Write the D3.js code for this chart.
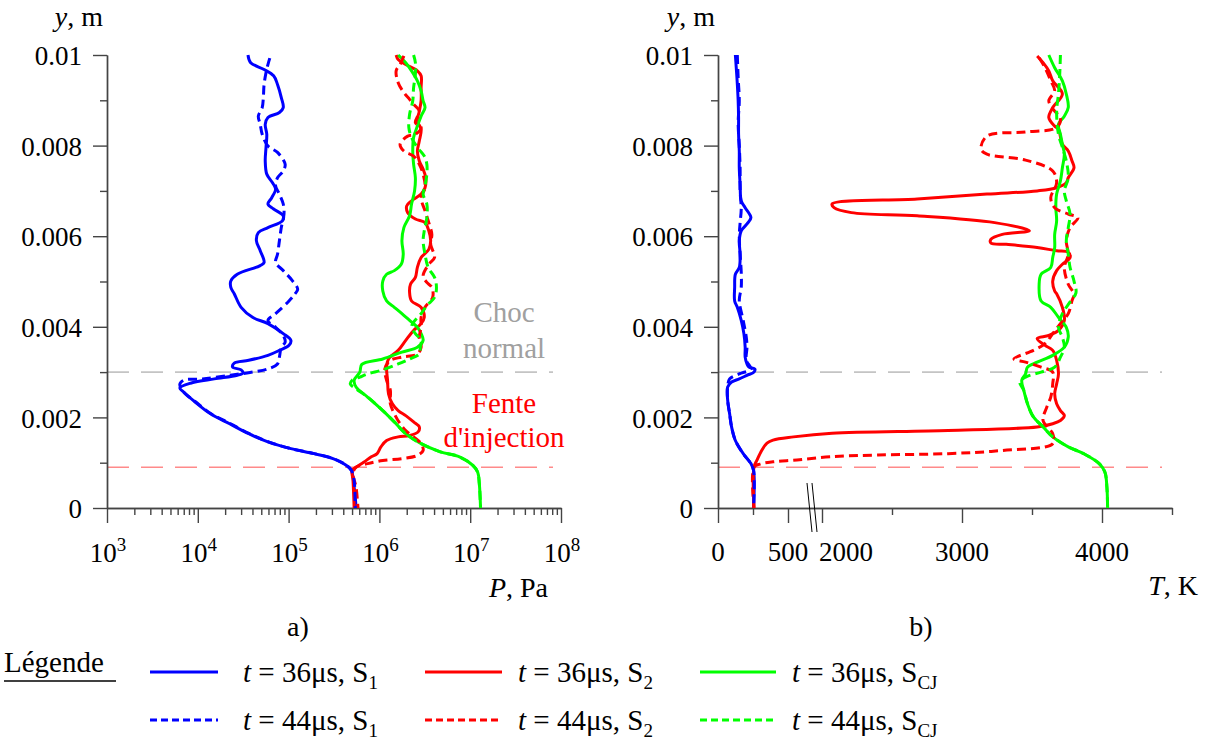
<!DOCTYPE html>
<html><head><meta charset="utf-8">
<script src="https://cdn.jsdelivr.net/npm/d3@7"></script>
<style>
body{margin:0;background:#fff}
</style>
</head><body>
<svg id="c" width="1207" height="742"></svg>
<script>
// ---------- DATA ----------
const yTicksMajor = [0, 0.002, 0.004, 0.006, 0.008, 0.01];
const yTicksMinor = [0.001, 0.003, 0.005, 0.007, 0.009];
const pDecades = [1e3, 1e4, 1e5, 1e6, 1e7, 1e8];
const pDecadeExp = ["3", "4", "5", "6", "7", "8"];
const tMajor = [0, 500, 2000, 3000, 4000];
const tMinor = [250, 2500, 3500, 4500];
const tLabels = ["0", "500", "2000", "3000", "4000"];
const refLevels = [0.003, 0.0009]; // Choc normal, Fente d'injection

// pressure profiles [P (Pa), y (mm)]
const P_S1_36 = [[3.57e4,10],[3.82e4,9.83],[5.37e4,9.68],[6.84e4,9.54],[7.55e4,9.35],[8.31e4,9.06],[8.73e4,8.84],[7.92e4,8.73],[5.92e4,8.62],[5.53e4,8.47],[5.75e4,8.25],[5.64e4,7.96],[5.53e4,7.66],[5.75e4,7.37],[6.65e4,7.18],[7.19e4,7.04],[6.52e4,6.85],[5.92e4,6.71],[6.84e4,6.60],[8.73e4,6.45],[8.55e4,6.34],[5.92e4,6.19],[4.64e4,6.08],[4.42e4,5.90],[4.87e4,5.68],[5.37e4,5.42],[4.87e4,5.35],[2.72e4,5.16],[2.31e4,5.01],[2.31e4,4.87],[2.52e4,4.73],[3.0e4,4.43],[4.01e4,4.21],[5.92e4,4.07],[8.73e4,3.85],[1.06e5,3.70],[1.01e5,3.59],[7.92e4,3.48],[5.92e4,3.37],[3.64e4,3.26],[2.52e4,3.20],[2.42e4,3.11],[3.0e4,3.05],[3.15e4,2.98],[2.72e4,2.93],[1.52e4,2.85],[8.48e3,2.76],[6.34e3,2.65],[6.98e3,2.56],[9.34e3,2.34],[1.38e4,2.08],[2.24e4,1.86],[3.64e4,1.64],[5.92e4,1.46],[1.06e5,1.31],[1.90e5,1.20],[3.08e5,1.09],[4.34e5,0.94],[4.92e5,0.83],[5.12e5,0.68],[5.27e5,0.46],[5.42e5,0.24],[5.53e5,0]];
const P_S1_44 = [[6.21e4,9.93],[5.92e4,9.79],[5.64e4,9.61],[5.37e4,9.35],[5.27e4,9.06],[5.12e4,8.84],[4.64e4,8.65],[4.87e4,8.47],[5.12e4,8.25],[5.92e4,7.99],[7.55e4,7.85],[9.16e4,7.59],[8.73e4,7.44],[7.55e4,7.29],[7.19e4,7.11],[7.92e4,6.93],[8.73e4,6.71],[8.9e4,6.49],[8.31e4,6.19],[7.92e4,5.90],[7.55e4,5.60],[7.19e4,5.42],[8.73e4,5.24],[1.11e5,5.01],[1.26e5,4.83],[1.17e5,4.72],[1.01e5,4.57],[7.19e4,4.29],[5.92e4,4.14],[7.19e4,3.99],[8.73e4,3.81],[9.16e4,3.66],[8.31e4,3.55],[7.92e4,3.33],[7.55e4,3.18],[5.92e4,3.07],[4.01e4,3.0],[2.24e4,2.93],[1.13e4,2.85],[6.98e3,2.82],[6.34e3,2.73],[6.98e3,2.56],[9.5e3,2.34],[1.4e4,2.08],[2.3e4,1.86],[3.7e4,1.64],[6.0e4,1.46],[1.07e5,1.31],[1.92e5,1.20],[3.1e5,1.09],[4.36e5,0.94],[4.94e5,0.83],[5.27e5,0.61],[5.42e5,0]];
const P_S2_36 = [[1.53e6,10],[1.61e6,9.90],[1.95e6,9.79],[2.62e6,9.65],[2.88e6,9.54],[2.88e6,9.28],[2.88e6,8.99],[2.75e6,8.76],[2.62e6,8.54],[2.88e6,8.36],[2.75e6,8.10],[2.62e6,7.88],[2.75e6,7.66],[3.03e6,7.48],[3.24e6,7.29],[3.18e6,7.07],[2.88e6,6.93],[2.26e6,6.78],[2.0e6,6.67],[2.05e6,6.52],[2.49e6,6.38],[3.18e6,6.30],[3.50e6,6.12],[3.67e6,5.90],[3.50e6,5.71],[2.88e6,5.53],[2.62e6,5.31],[2.49e6,5.09],[2.20e6,4.94],[2.15e6,4.76],[2.26e6,4.57],[2.88e6,4.43],[3.12e6,4.21],[2.88e6,4.07],[2.38e6,3.92],[1.95e6,3.70],[1.61e6,3.48],[1.26e6,3.29],[1.20e6,3.11],[1.23e6,2.82],[1.26e6,2.52],[1.39e6,2.30],[1.61e6,2.15],[1.95e6,2.04],[2.38e6,1.90],[2.75e6,1.79],[2.67e6,1.68],[2.15e6,1.60],[1.61e6,1.57],[1.20e6,1.49],[1.04e6,1.35],[9.44e5,1.20],[8.15e5,1.13],[6.71e5,1.01],[5.53e5,0.90],[5.01e5,0.83],[5.12e5,0.61],[5.27e5,0]];
const P_S2_44 = [[1.86e6,9.98],[1.69e6,9.79],[1.53e6,9.65],[1.61e6,9.39],[1.86e6,9.17],[2.15e6,9.02],[2.38e6,8.91],[2.75e6,8.76],[2.49e6,8.51],[2.88e6,8.40],[2.49e6,8.25],[2.05e6,8.21],[1.69e6,8.03],[1.86e6,7.88],[2.38e6,7.77],[2.75e6,7.59],[3.03e6,7.37],[3.18e6,7.07],[2.88e6,6.85],[3.18e6,6.56],[3.50e6,6.30],[3.78e6,6.04],[3.67e6,5.82],[4.05e6,5.53],[3.50e6,5.38],[3.03e6,5.12],[3.33e6,4.98],[3.78e6,4.87],[3.86e6,4.65],[3.18e6,4.43],[2.88e6,4.21],[2.88e6,3.99],[2.75e6,3.77],[2.88e6,3.55],[2.62e6,3.40],[1.77e6,3.33],[1.32e6,3.26],[1.15e6,3.07],[1.20e6,2.82],[1.32e6,2.60],[1.32e6,2.30],[1.46e6,2.08],[1.69e6,1.86],[1.95e6,1.71],[2.38e6,1.57],[2.88e6,1.42],[3.03e6,1.27],[2.62e6,1.16],[1.77e6,1.09],[1.09e6,1.05],[7.40e5,0.98],[5.53e5,0.90],[5.12e5,0.76],[5.53e5,0.46],[5.81e5,0]];
const P_SCJ_36 = [[1.61e6,10],[1.95e6,9.83],[2.26e6,9.65],[2.62e6,9.43],[2.88e6,9.21],[3.03e6,8.99],[3.18e6,8.84],[2.88e6,8.65],[2.62e6,8.43],[2.38e6,8.18],[2.33e6,7.88],[2.38e6,7.59],[2.49e6,7.29],[2.44e6,7.0],[2.26e6,6.71],[2.15e6,6.45],[1.86e6,6.19],[1.77e6,5.90],[1.83e6,5.60],[1.74e6,5.38],[1.46e6,5.24],[1.20e6,5.16],[1.09e6,5.01],[1.09e6,4.79],[1.20e6,4.57],[1.46e6,4.43],[1.77e6,4.29],[2.15e6,4.14],[2.62e6,3.99],[2.88e6,3.85],[3.03e6,3.70],[2.62e6,3.55],[1.77e6,3.44],[1.09e6,3.29],[6.40e5,3.17],[6.09e5,3.0],[5.27e5,2.82],[5.53e5,2.67],[7.40e5,2.45],[1.09e6,2.15],[1.46e6,1.90],[1.95e6,1.64],[2.88e6,1.42],[4.69e6,1.24],[7.62e6,1.13],[1.07e7,0.94],[1.21e7,0.79],[1.26e7,0.54],[1.30e7,0]];
const P_SCJ_44 = [[2.38e6,10],[2.49e6,9.83],[2.49e6,9.57],[2.38e6,9.28],[2.33e6,8.99],[2.15e6,8.69],[2.11e6,8.40],[2.26e6,8.18],[2.62e6,7.96],[3.12e6,7.77],[3.33e6,7.59],[3.33e6,7.37],[3.18e6,7.11],[3.03e6,6.93],[3.33e6,6.71],[3.33e6,6.41],[3.12e6,6.12],[3.03e6,5.90],[3.18e6,5.60],[3.44e6,5.31],[4.05e6,5.09],[4.25e6,4.87],[4.05e6,4.65],[3.33e6,4.47],[2.88e6,4.29],[2.38e6,4.10],[2.26e6,3.99],[2.49e6,3.85],[2.88e6,3.70],[2.82e6,3.55],[2.75e6,3.40],[2.15e6,3.29],[1.61e6,3.18],[1.09e6,3.05],[7.40e5,2.96],[6.09e5,2.89],[5.01e5,2.82],[4.78e5,2.74],[5.53e5,2.63],[7.40e5,2.45],[1.09e6,2.15],[1.46e6,1.90],[1.95e6,1.64],[2.88e6,1.42],[4.69e6,1.24],[7.62e6,1.13],[1.07e7,0.94],[1.21e7,0.79],[1.26e7,0.54],[1.30e7,0]];

// temperature profiles [T (K), y (mm)]
const T_S1_36 = [[124,10],[130,9.74],[138,9.36],[144,8.99],[147,8.62],[147,8.25],[152,7.88],[152,7.51],[158,7.14],[166,6.78],[194,6.63],[235,6.41],[207,6.27],[166,6.12],[152,5.90],[158,5.60],[152,5.31],[124,5.16],[119,4.87],[119,4.57],[138,4.43],[166,4.14],[185,3.85],[194,3.55],[194,3.33],[207,3.18],[221,3.11],[263,3.07],[257,3.0],[207,2.93],[152,2.85],[97,2.78],[69,2.67],[69,2.38],[83,2.08],[97,1.79],[124,1.49],[180,1.20],[235,0.98],[254,0.83],[254,0]];
const T_S1_44 = [[138,10],[144,9.5],[152,8.99],[144,8.5],[152,8.0],[158,7.5],[158,7.0],[166,6.6],[158,6.3],[152,6.0],[158,5.6],[166,5.2],[166,4.87],[152,4.58],[180,4.14],[202,3.77],[207,3.55],[202,3.26],[235,3.07],[152,2.96],[83,2.85],[69,2.67],[69,2.38],[83,2.08],[97,1.79],[124,1.49],[180,1.20],[235,0.98],[254,0.83],[254,0]];
const T_S2_36 = [[3537,9.98],[3579,9.83],[3620,9.65],[3648,9.43],[3717,9.14],[3648,8.84],[3620,8.62],[3662,8.43],[3689,8.36],[3717,8.03],[3759,7.88],[3786,7.66],[3800,7.51],[3759,7.29],[3745,7.18],[3676,7.07],[3537,7.0],[3178,6.93],[2680,6.82],[2072,6.71],[2086,6.63],[2210,6.52],[2680,6.45],[3233,6.30],[3482,6.12],[3288,6.04],[3206,5.93],[3206,5.85],[3316,5.82],[3537,5.75],[3676,5.68],[3759,5.65],[3772,5.53],[3717,5.38],[3676,5.24],[3648,5.01],[3662,4.79],[3676,4.73],[3717,4.43],[3731,4.14],[3689,3.92],[3620,3.81],[3537,3.74],[3593,3.59],[3648,3.48],[3676,3.26],[3689,2.96],[3676,2.74],[3662,2.52],[3676,2.30],[3703,2.15],[3731,2.04],[3703,1.93],[3648,1.86],[3537,1.79],[2901,1.71],[2072,1.65],[743,1.57],[393,1.50],[350,1.43],[314,1.28],[279,1.06],[257,0.90],[257,0]];
const T_S2_44 = [[3551,9.94],[3593,9.72],[3634,9.43],[3662,9.21],[3620,8.99],[3662,8.76],[3703,8.62],[3676,8.40],[3454,8.30],[3178,8.21],[3136,7.92],[3178,7.81],[3454,7.68],[3648,7.44],[3676,7.18],[3634,6.85],[3662,6.63],[3759,6.49],[3828,6.41],[3772,6.19],[3745,5.90],[3759,5.60],[3731,5.31],[3759,4.94],[3800,4.72],[3786,4.58],[3759,4.29],[3703,4.07],[3648,3.85],[3593,3.63],[3510,3.48],[3371,3.29],[3454,3.22],[3565,3.11],[3648,3.0],[3648,2.74],[3634,2.45],[3606,2.23],[3579,1.93],[3648,1.64],[3648,1.42],[3288,1.27],[2901,1.20],[2400,1.17],[2057,1.13],[897,1.06],[393,1.02],[300,0.97],[257,0.90],[257,0]];
const T_SCJ_36 = [[3620,10],[3662,9.72],[3717,9.43],[3745,9.14],[3759,8.84],[3731,8.65],[3689,8.47],[3703,8.25],[3717,8.03],[3731,7.81],[3717,7.51],[3703,7.22],[3676,6.93],[3670,6.63],[3676,6.34],[3662,6.04],[3662,5.75],[3648,5.53],[3634,5.31],[3565,5.16],[3551,4.94],[3565,4.57],[3634,4.43],[3689,4.21],[3745,3.99],[3759,3.77],[3731,3.55],[3648,3.37],[3537,3.22],[3468,3.11],[3454,2.96],[3427,2.82],[3441,2.60],[3468,2.30],[3510,2.01],[3579,1.79],[3648,1.57],[3759,1.35],[3869,1.20],[3980,0.98],[4021,0.79],[4035,0.46],[4040,0]];
const T_SCJ_44 = [[3703,10],[3698,9.57],[3689,9.14],[3676,8.76],[3689,8.25],[3717,7.96],[3745,7.66],[3759,7.29],[3731,7.0],[3745,6.78],[3772,6.49],[3759,6.19],[3745,5.90],[3759,5.60],[3772,5.31],[3800,5.01],[3814,4.75],[3772,4.55],[3717,4.29],[3689,3.99],[3717,3.77],[3731,3.55],[3703,3.33],[3662,3.11],[3565,3.0],[3454,2.89],[3413,2.78],[3441,2.60],[3468,2.30],[3510,2.01],[3579,1.79],[3648,1.57],[3759,1.35],[3869,1.20],[3980,0.98],[4021,0.79],[4035,0.46],[4040,0]];

const legendTime = ["36", "44"];
const legendSub = ["1", "2", "CJ"];

// ---------- STYLE / LAYOUT ----------
const SERIF = "'Liberation Serif', 'DejaVu Serif', Tinos, 'Times New Roman', serif";
const colors = {S1:"#0000ff", S2:"#ff0000", SCJ:"#00ff00"};
const FONT = 27;
const svg = d3.select("#c").attr("font-family", SERIF).style("font-family", SERIF);

const y = d3.scaleLinear().domain([0, 0.01]).range([508, 55]);
const xP = d3.scaleLog().domain([1e3, 1e8]).range([107, 561]);
const xT = d3.scaleLinear().domain([0, 500, 2000, 4500]).range([718, 788, 822, 1172]);

function txt(sel) { return sel.style("font-family", SERIF).style("fill", "#000"); }

// reference dashed lines
const refColors = ["#c4c4c4", "#ff8a8a"];
refLevels.forEach((lv, i) => {
  [[107, 553], [718, 1162]].forEach(([a, b]) => {
    svg.append("line").attr("x1", a).attr("x2", b).attr("y1", y(lv)).attr("y2", y(lv))
      .attr("stroke", refColors[i]).attr("stroke-width", 1.6).attr("stroke-dasharray", "22,12");
  });
});

// axes
function styleAxis(g) {
  g.selectAll("path.domain").attr("stroke", "#444").attr("stroke-width", 1.4);
  g.selectAll(".tick line").attr("stroke", "#444").attr("stroke-width", 1.4);
  g.attr("font-family", SERIF).attr("font-size", FONT);
  return g;
}
function yAxis(x0) {
  styleAxis(svg.append("g").attr("transform", `translate(${x0},0)`)
    .call(d3.axisLeft(y).tickValues(yTicksMinor).tickSize(7).tickSizeOuter(0).tickFormat("")));
  const g = styleAxis(svg.append("g").attr("transform", `translate(${x0},0)`)
    .call(d3.axisLeft(y).tickValues(yTicksMajor).tickSize(14).tickPadding(11).tickSizeOuter(0)
      .tickFormat(d => d === 0 ? "0" : String(+d.toFixed(3)))));
  txt(g.selectAll(".tick text").attr("font-size", FONT).attr("dy", "0.36em"));
}
yAxis(107);
yAxis(718);

// left x axis (log)
const pMinor = [];
pDecades.slice(0, -1).forEach(d => d3.range(2, 10).forEach(k => pMinor.push(d * k)));
styleAxis(svg.append("g").attr("transform", "translate(0,508)")
  .call(d3.axisBottom(xP).tickValues(pMinor).tickSize(7).tickSizeOuter(0).tickFormat("")));
styleAxis(svg.append("g").attr("transform", "translate(0,508)")
  .call(d3.axisBottom(xP).tickValues(pDecades).tickSize(15).tickSizeOuter(0).tickFormat("")));
pDecades.forEach((d, i) => {
  const t = txt(svg.append("text").attr("x", xP(d) + 1).attr("y", 562).attr("text-anchor", "middle").attr("font-size", FONT));
  t.append("tspan").text("10");
  t.append("tspan").attr("font-size", 19).attr("dy", -11).text(pDecadeExp[i]);
});

// right x axis (broken)
styleAxis(svg.append("g").attr("transform", "translate(0,508)")
  .call(d3.axisBottom(xT).tickValues(tMinor).tickSize(7).tickSizeOuter(0).tickFormat("")));
styleAxis(svg.append("g").attr("transform", "translate(0,508)")
  .call(d3.axisBottom(xT).tickValues(tMajor).tickSize(15).tickSizeOuter(0).tickFormat("")));
tMajor.forEach((d, i) => {
  const shifted = d === 2000;
  txt(svg.append("text").attr("x", shifted ? xT(d) - 3 : xT(d)).attr("y", 561)
    .attr("text-anchor", shifted ? "start" : "middle").attr("font-size", FONT).text(tLabels[i]));
});
// axis break marks
[0, 5].forEach(o => {
  svg.append("line").attr("x1", 807 + o).attr("y1", 483).attr("x2", 812 + o).attr("y2", 532)
    .attr("stroke", "#000").attr("stroke-width", 1);
});

// axis titles
function title(x, yy, italic, rest) {
  const t = txt(svg.append("text").attr("x", x).attr("y", yy).attr("text-anchor", "end").attr("font-size", 28));
  t.append("tspan").attr("font-style", "italic").text(italic);
  t.append("tspan").text(rest);
}
title(103, 26, "y", ", m");
title(715, 26, "y", ", m");
title(548, 597, "P", ", Pa");
title(1198, 595, "T", ", K");
txt(svg.append("text").attr("x", 298).attr("y", 636).attr("text-anchor", "middle").attr("font-size", 28).text("a)"));
txt(svg.append("text").attr("x", 921).attr("y", 636).attr("text-anchor", "middle").attr("font-size", 28).text("b)"));

// annotations
const ann = [["Choc", 322, "#a0a0a0"], ["normal", 358, "#a0a0a0"], ["Fente", 413, "#ff0000"], ["d'injection", 447, "#ff0000"]];
ann.forEach(([s, yy, c]) => txt(svg.append("text").attr("x", 504).attr("y", yy).attr("text-anchor", "middle")
  .attr("font-size", 29).text(s)).style("fill", c));

// curves
const dashes = "9,5";
const lineP = d3.line().x(d => xP(d[0])).y(d => y(d[1] / 1000)).curve(d3.curveCatmullRom.alpha(0.5));
const lineT = d3.line().x(d => xT(d[0])).y(d => y(d[1] / 1000)).curve(d3.curveCatmullRom.alpha(0.5));
const pSeries = {S1_36: P_S1_36, S1_44: P_S1_44, S2_36: P_S2_36, S2_44: P_S2_44, SCJ_36: P_SCJ_36, SCJ_44: P_SCJ_44};
const tSeries = {S1_36: T_S1_36, S1_44: T_S1_44, S2_36: T_S2_36, S2_44: T_S2_44, SCJ_36: T_SCJ_36, SCJ_44: T_SCJ_44};
const drawOrder = ["S1_36", "S2_36", "SCJ_36", "S2_44", "SCJ_44", "S1_44"];
drawOrder.forEach(name => {
  const key = name.split("_")[0];
  const dashed = name.endsWith("44");
  [[pSeries[name], lineP], [tSeries[name], lineT]].forEach(([data, gen]) => {
    svg.append("path").attr("d", gen(data)).attr("fill", "none").attr("stroke", colors[key])
      .attr("stroke-width", 3).attr("stroke-dasharray", dashed ? dashes : null)
      .attr("stroke-linejoin", "round");
  });
});

// legend
txt(svg.append("text").attr("x", 4).attr("y", 672).attr("font-size", 29).text("Légende"));
svg.append("line").attr("x1", 4).attr("x2", 116).attr("y1", 681).attr("y2", 681).attr("stroke", "#000").attr("stroke-width", 1.6);
const colX = [[150, 218, 243], [425, 502, 518], [700, 776, 792]];
const rowY = [672, 720];
const keys = ["S1", "S2", "SCJ"];
legendTime.forEach((tm, r) => {
  keys.forEach((k, c) => {
    const [a, b, tx] = colX[c];
    svg.append("line").attr("x1", a).attr("x2", b).attr("y1", rowY[r]).attr("y2", rowY[r])
      .attr("stroke", colors[k]).attr("stroke-width", 3).attr("stroke-dasharray", r === 1 ? "7,4" : null);
    const t = txt(svg.append("text").attr("x", tx).attr("y", rowY[r] + 10).attr("font-size", 29));
    t.append("tspan").attr("font-style", "italic").text("t");
    t.append("tspan").text(` = ${tm}μs, S`);
    t.append("tspan").attr("font-size", 19).attr("dy", 7).text(legendSub[c]);
  });
});
</script>
</body></html>
